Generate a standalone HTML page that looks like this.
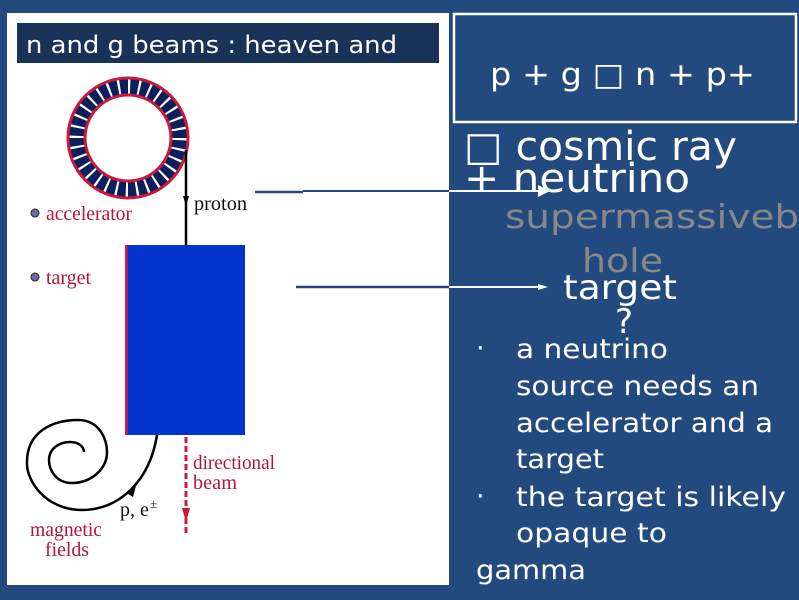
<!DOCTYPE html>
<html><head><meta charset="utf-8"><style>
html,body{margin:0;padding:0;background:#234a7e;}
svg{display:block}
text{font-family:"DejaVu Sans","Liberation Sans",sans-serif;}
.s{font-family:"Liberation Serif",serif;}
</style></head><body>
<svg width="799" height="600" viewBox="0 0 799 600" xmlns="http://www.w3.org/2000/svg">
<rect width="799" height="600" fill="#234a7e"/>
<rect x="7" y="13" width="442" height="572" fill="#fff"/>
<rect x="17" y="23" width="422" height="40" fill="#1a3158"/>
<text x="26" y="53" font-size="24" fill="#fff" textLength="371" lengthAdjust="spacingAndGlyphs">n and g beams : heaven and</text>
<!-- ring -->
<circle cx="128" cy="138" r="51.5" fill="none" stroke="#0b1f5c" stroke-width="17"/>
<circle cx="128" cy="138" r="51.5" fill="none" stroke="#fff" stroke-width="15" stroke-dasharray="2.2 7.9"/>
<circle cx="128" cy="138" r="60" fill="none" stroke="#c8193c" stroke-width="3"/>
<circle cx="128" cy="138" r="43" fill="none" stroke="#c8193c" stroke-width="3"/>
<line x1="186" y1="150" x2="186" y2="246" stroke="#000" stroke-width="2.5"/>
<path d="M183 196 L186 206 L189 196Z" fill="#000"/>
<text class="s" x="194" y="210" font-size="20" fill="#111" textLength="53" lengthAdjust="spacingAndGlyphs">proton</text>
<circle cx="35" cy="213" r="4" fill="#6a6aa0" stroke="#223" stroke-width="1"/>
<text class="s" x="46" y="220" font-size="20" fill="#b0173a" textLength="86" lengthAdjust="spacingAndGlyphs">accelerator</text>
<circle cx="35" cy="277" r="4" fill="#6a6aa0" stroke="#223" stroke-width="1"/>
<text class="s" x="46" y="284" font-size="20" fill="#b0173a" textLength="45" lengthAdjust="spacingAndGlyphs">target</text>
<rect x="126" y="245" width="119" height="190" fill="#0432cc"/>
<rect x="125" y="245" width="2.5" height="190" fill="#e0184a"/>
<!-- spiral -->
<path d="M157 435 C150 480 120 510 82 510 C45 510 26 480 27 462 C27 432 52 420 78 420 C100 420 107 440 107 452 C107 470 90 483 72 483 C56 483 49 470 49 460 C49 448 60 442 70 442 C80 442 84 448 84 452" fill="none" stroke="#000" stroke-width="2.5"/>
<path d="M128 494 L136 486 L133 497Z" fill="#000"/>
<text class="s" x="120" y="516" font-size="20" fill="#111">p, e</text>
<text class="s" x="150" y="508" font-size="13" fill="#111">±</text>
<line x1="186" y1="437" x2="186" y2="535" stroke="#c8193c" stroke-width="3" stroke-dasharray="6 3"/>
<path d="M182 508 L186 522 L190 508Z" fill="#c8193c"/>
<text class="s" x="193" y="469" font-size="20" fill="#b0173a" textLength="82" lengthAdjust="spacingAndGlyphs">directional</text>
<text class="s" x="193" y="489" font-size="20" fill="#b0173a" textLength="44" lengthAdjust="spacingAndGlyphs">beam</text>
<text class="s" x="30" y="536" font-size="20" fill="#b0173a" textLength="72" lengthAdjust="spacingAndGlyphs">magnetic</text>
<text class="s" x="45" y="556" font-size="20" fill="#b0173a" textLength="44" lengthAdjust="spacingAndGlyphs">fields</text>
<!-- connectors -->
<line x1="255" y1="192" x2="303" y2="192" stroke="#234a7e" stroke-width="2.5"/>
<line x1="303" y1="191" x2="449" y2="191" stroke="#234a7e" stroke-width="2"/>
<line x1="449" y1="191" x2="540" y2="191" stroke="#fff" stroke-width="2"/>
<path d="M538 185 L550 191 L538 197Z" fill="#fff"/>
<line x1="296" y1="287" x2="449" y2="287" stroke="#234a7e" stroke-width="2.5"/>
<line x1="449" y1="287" x2="541" y2="287" stroke="#fff" stroke-width="2"/>
<path d="M538 284 L548 287 L538 290Z" fill="#fff"/>
<!-- right -->
<rect x="454" y="14" width="342" height="108" fill="#234a7e" stroke="#fff" stroke-width="2.5"/>
<text x="490" y="85" font-size="31" fill="#fff" textLength="265" lengthAdjust="spacingAndGlyphs">p + g □ n + p+</text>
<text x="464" y="160" font-size="40" fill="#fff" textLength="273" lengthAdjust="spacingAndGlyphs">□ cosmic ray</text>
<text x="464" y="192" font-size="40" fill="#fff" textLength="226" lengthAdjust="spacingAndGlyphs">+ neutrino</text>
<text x="505" y="228" font-size="33" fill="#888" textLength="305" lengthAdjust="spacingAndGlyphs">supermassivebl</text>
<text x="582" y="272" font-size="33" fill="#888" textLength="81" lengthAdjust="spacingAndGlyphs">hole</text>
<text x="563" y="299" font-size="34" fill="#fff" textLength="114" lengthAdjust="spacingAndGlyphs">target</text>
<text x="615" y="333" font-size="34" fill="#fff">?</text>
<g font-size="27" fill="#fff">
<text x="476" y="357">·</text>
<text x="516" y="358" textLength="152" lengthAdjust="spacingAndGlyphs">a neutrino</text>
<text x="516" y="395" textLength="243" lengthAdjust="spacingAndGlyphs">source needs an</text>
<text x="516" y="432" textLength="257" lengthAdjust="spacingAndGlyphs">accelerator and a</text>
<text x="516" y="468" textLength="88" lengthAdjust="spacingAndGlyphs">target</text>
<text x="476" y="505">·</text>
<text x="516" y="506" textLength="270" lengthAdjust="spacingAndGlyphs">the target is likely</text>
<text x="516" y="542" textLength="151" lengthAdjust="spacingAndGlyphs">opaque to</text>
<text x="476" y="579" textLength="110" lengthAdjust="spacingAndGlyphs">gamma</text>
</g>
</svg>
</body></html>
